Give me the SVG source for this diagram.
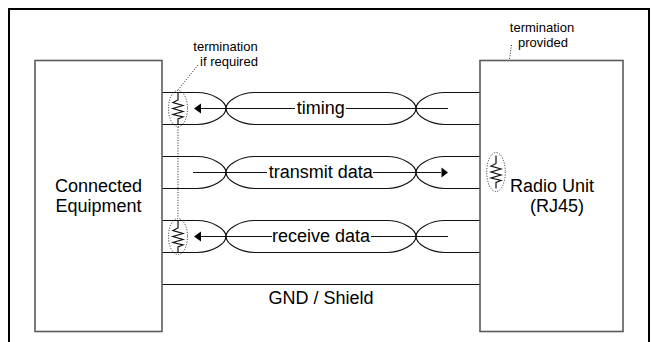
<svg xmlns="http://www.w3.org/2000/svg" width="652" height="342" viewBox="0 0 652 342">
<style>
text{font-family:"Liberation Sans",Arial,sans-serif;fill:#000;text-anchor:middle}
.big{font-size:18px}
.small{font-size:13px}
.box{fill:#fff;stroke:#5a5a5a;stroke-width:1.6}
.w{fill:none;stroke:#111;stroke-width:1.2}
.dot{fill:none;stroke:#222;stroke-width:1;stroke-dasharray:1 1.6}
.r{fill:none;stroke:#111;stroke-width:1.2}
</style>
<defs>
<g id="twist">
<path class="w" d="M162 0H197C212 0 226 8.500 226 16C226 23.500 240 32 255 32H387C402 32 416 23.500 416 16C416 8.500 430 0 445 0H480"/>
<path class="w" d="M162 32H197C212 32 226 23.500 226 16C226 8.500 240 0 255 0H387C402 0 416 8.500 416 16C416 23.500 430 32 445 32H480"/>
</g>
<path id="res" class="r" d="M0 0V8L-5 10.500L5 13.500L-5 16.500L5 19.500L-5 22.500L5 25L0 27V33"/>
</defs>
<path d="M9 342V9H649V342" fill="none" stroke="#000" stroke-width="2"/>
<g id="connectors">
<use href="#twist" y="92.500"/>
<use href="#twist" y="156.500"/>
<use href="#twist" y="220.500"/>
<path class="w" d="M200 108.500H295M346 108.500H448"/>
<path class="w" d="M193 172.500H267M373 172.500H441"/>
<path class="w" d="M200 236.500H272M371 236.500H448"/>
<path d="M194 108.500L201 103.500V113.500Z"/>
<path d="M194 236.500L201 231.500V241.500Z"/>
<path d="M448 172.500L441.500 167.500V177.500Z"/>
<path class="w" d="M162 284.500H480"/>
<path class="dot" d="M198 65L178 90M178 127V218M511.500 45L496 152"/>
</g>
<g id="left-unit"><rect class="box" x="35" y="60.500" width="127" height="271"/>
<text class="big" x="98.500" y="192">Connected</text><text class="big" x="98.500" y="212">Equipment</text></g>
<g id="right-unit"><rect class="box" x="480" y="60.500" width="143" height="271"/>
<text class="big" x="552" y="192">Radio Unit</text><text class="big" x="557" y="212">(RJ45)</text></g>
<g id="term-timing"><use href="#res" x="178" y="92"/><ellipse class="dot" cx="178" cy="108.500" rx="9.500" ry="18"/></g>
<g id="term-receive"><use href="#res" x="178" y="220"/><ellipse class="dot" cx="178" cy="236.500" rx="9.500" ry="18"/></g>
<g id="term-provided"><use href="#res" x="496" y="155.500"/><ellipse class="dot" cx="496" cy="172" rx="9.300" ry="19.500"/></g>
<g id="labels">
<text class="big" x="320.800" y="114">timing</text>
<text class="big" x="320.800" y="178">transmit data</text>
<text class="big" x="321" y="242">receive data</text>
<text class="big" x="321" y="304">GND / Shield</text>
<text class="small" x="225.500" y="51">termination</text>
<text class="small" x="229" y="66">if required</text>
<text class="small" x="542" y="32">termination</text>
<text class="small" x="543" y="47">provided</text>
</g>
</svg>
